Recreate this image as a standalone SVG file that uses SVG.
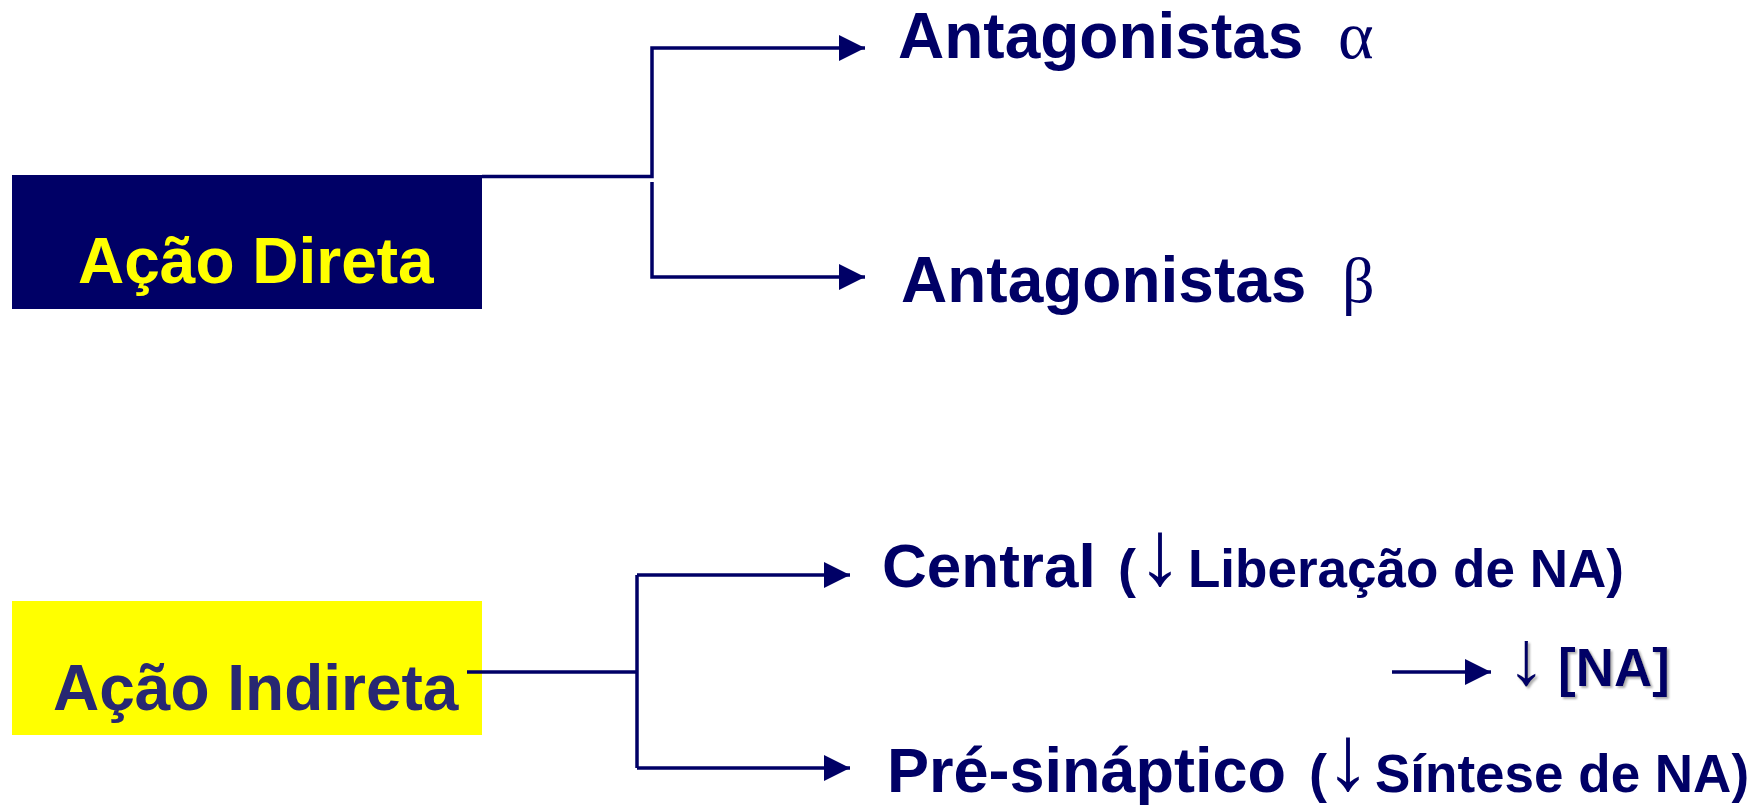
<svg xmlns="http://www.w3.org/2000/svg" width="1764" height="805" viewBox="0 0 1764 805">
<defs>
<style>
.t{font-family:"Liberation Sans",Arial,sans-serif;font-weight:bold;fill:#000066}
.g{font-family:"Liberation Serif","DejaVu Serif",serif;font-weight:normal;fill:#000066}
.c{fill:none;stroke:#000066;stroke-width:3.5}
</style>
<marker id="ah" markerWidth="26" markerHeight="26" viewBox="0 0 26 26" refX="26" refY="13" orient="auto" markerUnits="userSpaceOnUse">
<path d="M0,0 L26,13 L0,26 Z" fill="#000066"/>
</marker>
<filter id="sh" x="-10%" y="-10%" width="130%" height="130%">
<feDropShadow dx="2" dy="2" stdDeviation="1" flood-color="#999999" flood-opacity="0.8"/>
</filter>
</defs>
<rect width="1764" height="805" fill="#ffffff"/>
<g id="acao-direta">
<rect x="12" y="175" width="470" height="134" fill="#000066"/>
<text class="t" x="78" y="283" font-size="64" style="fill:#FFFF00">Ação Direta</text>
</g>
<g id="acao-indireta">
<rect x="12" y="601" width="470" height="134" fill="#FFFF00"/>
<text class="t" x="53" y="710" font-size="64" style="fill:#282872">Ação Indireta</text>
</g>
<g id="antagonistas-alfa">
<text class="t" x="898" y="58" font-size="64">Antagonistas</text>
<text class="g" x="1338" y="58" font-size="68">α</text>
</g>
<g id="antagonistas-beta">
<text class="t" x="901" y="302" font-size="64">Antagonistas</text>
<text class="g" x="1342" y="302" font-size="64">β</text>
</g>
<g id="central">
<text class="t" x="882" y="587" font-size="62">Central</text>
<text class="t" x="1118" y="587" font-size="54">(</text>
<text class="g" x="1137" y="584" font-size="92">↓</text>
<text class="t" x="1188" y="587" font-size="53">Liberação de NA)</text>
</g>
<g id="na">
<text class="g" x="1507" y="684" font-size="77" filter="url(#sh)">↓</text>
<text class="t" x="1558" y="686" font-size="53" filter="url(#sh)">[NA]</text>
</g>
<g id="pre-sinaptico">
<text class="t" x="887" y="792" font-size="63">Pré-sináptico</text>
<text class="t" x="1309" y="792" font-size="54">(</text>
<text class="g" x="1325" y="789" font-size="92">↓</text>
<text class="t" x="1375" y="792" font-size="53">Síntese de NA)</text>
</g>
<g id="connectors">
<path class="c" d="M482,176.5 H652 V48 H865" marker-end="url(#ah)"/>
<path class="c" d="M652,182 V277 H865" marker-end="url(#ah)"/>
<path class="c" d="M467,672 H637"/>
<path class="c" d="M637,575 V768"/>
<path class="c" d="M637,575 H850" marker-end="url(#ah)"/>
<path class="c" d="M637,768 H850" marker-end="url(#ah)"/>
<path class="c" d="M1392,672 H1491" stroke-width="4" marker-end="url(#ah)"/>
</g>
</svg>
